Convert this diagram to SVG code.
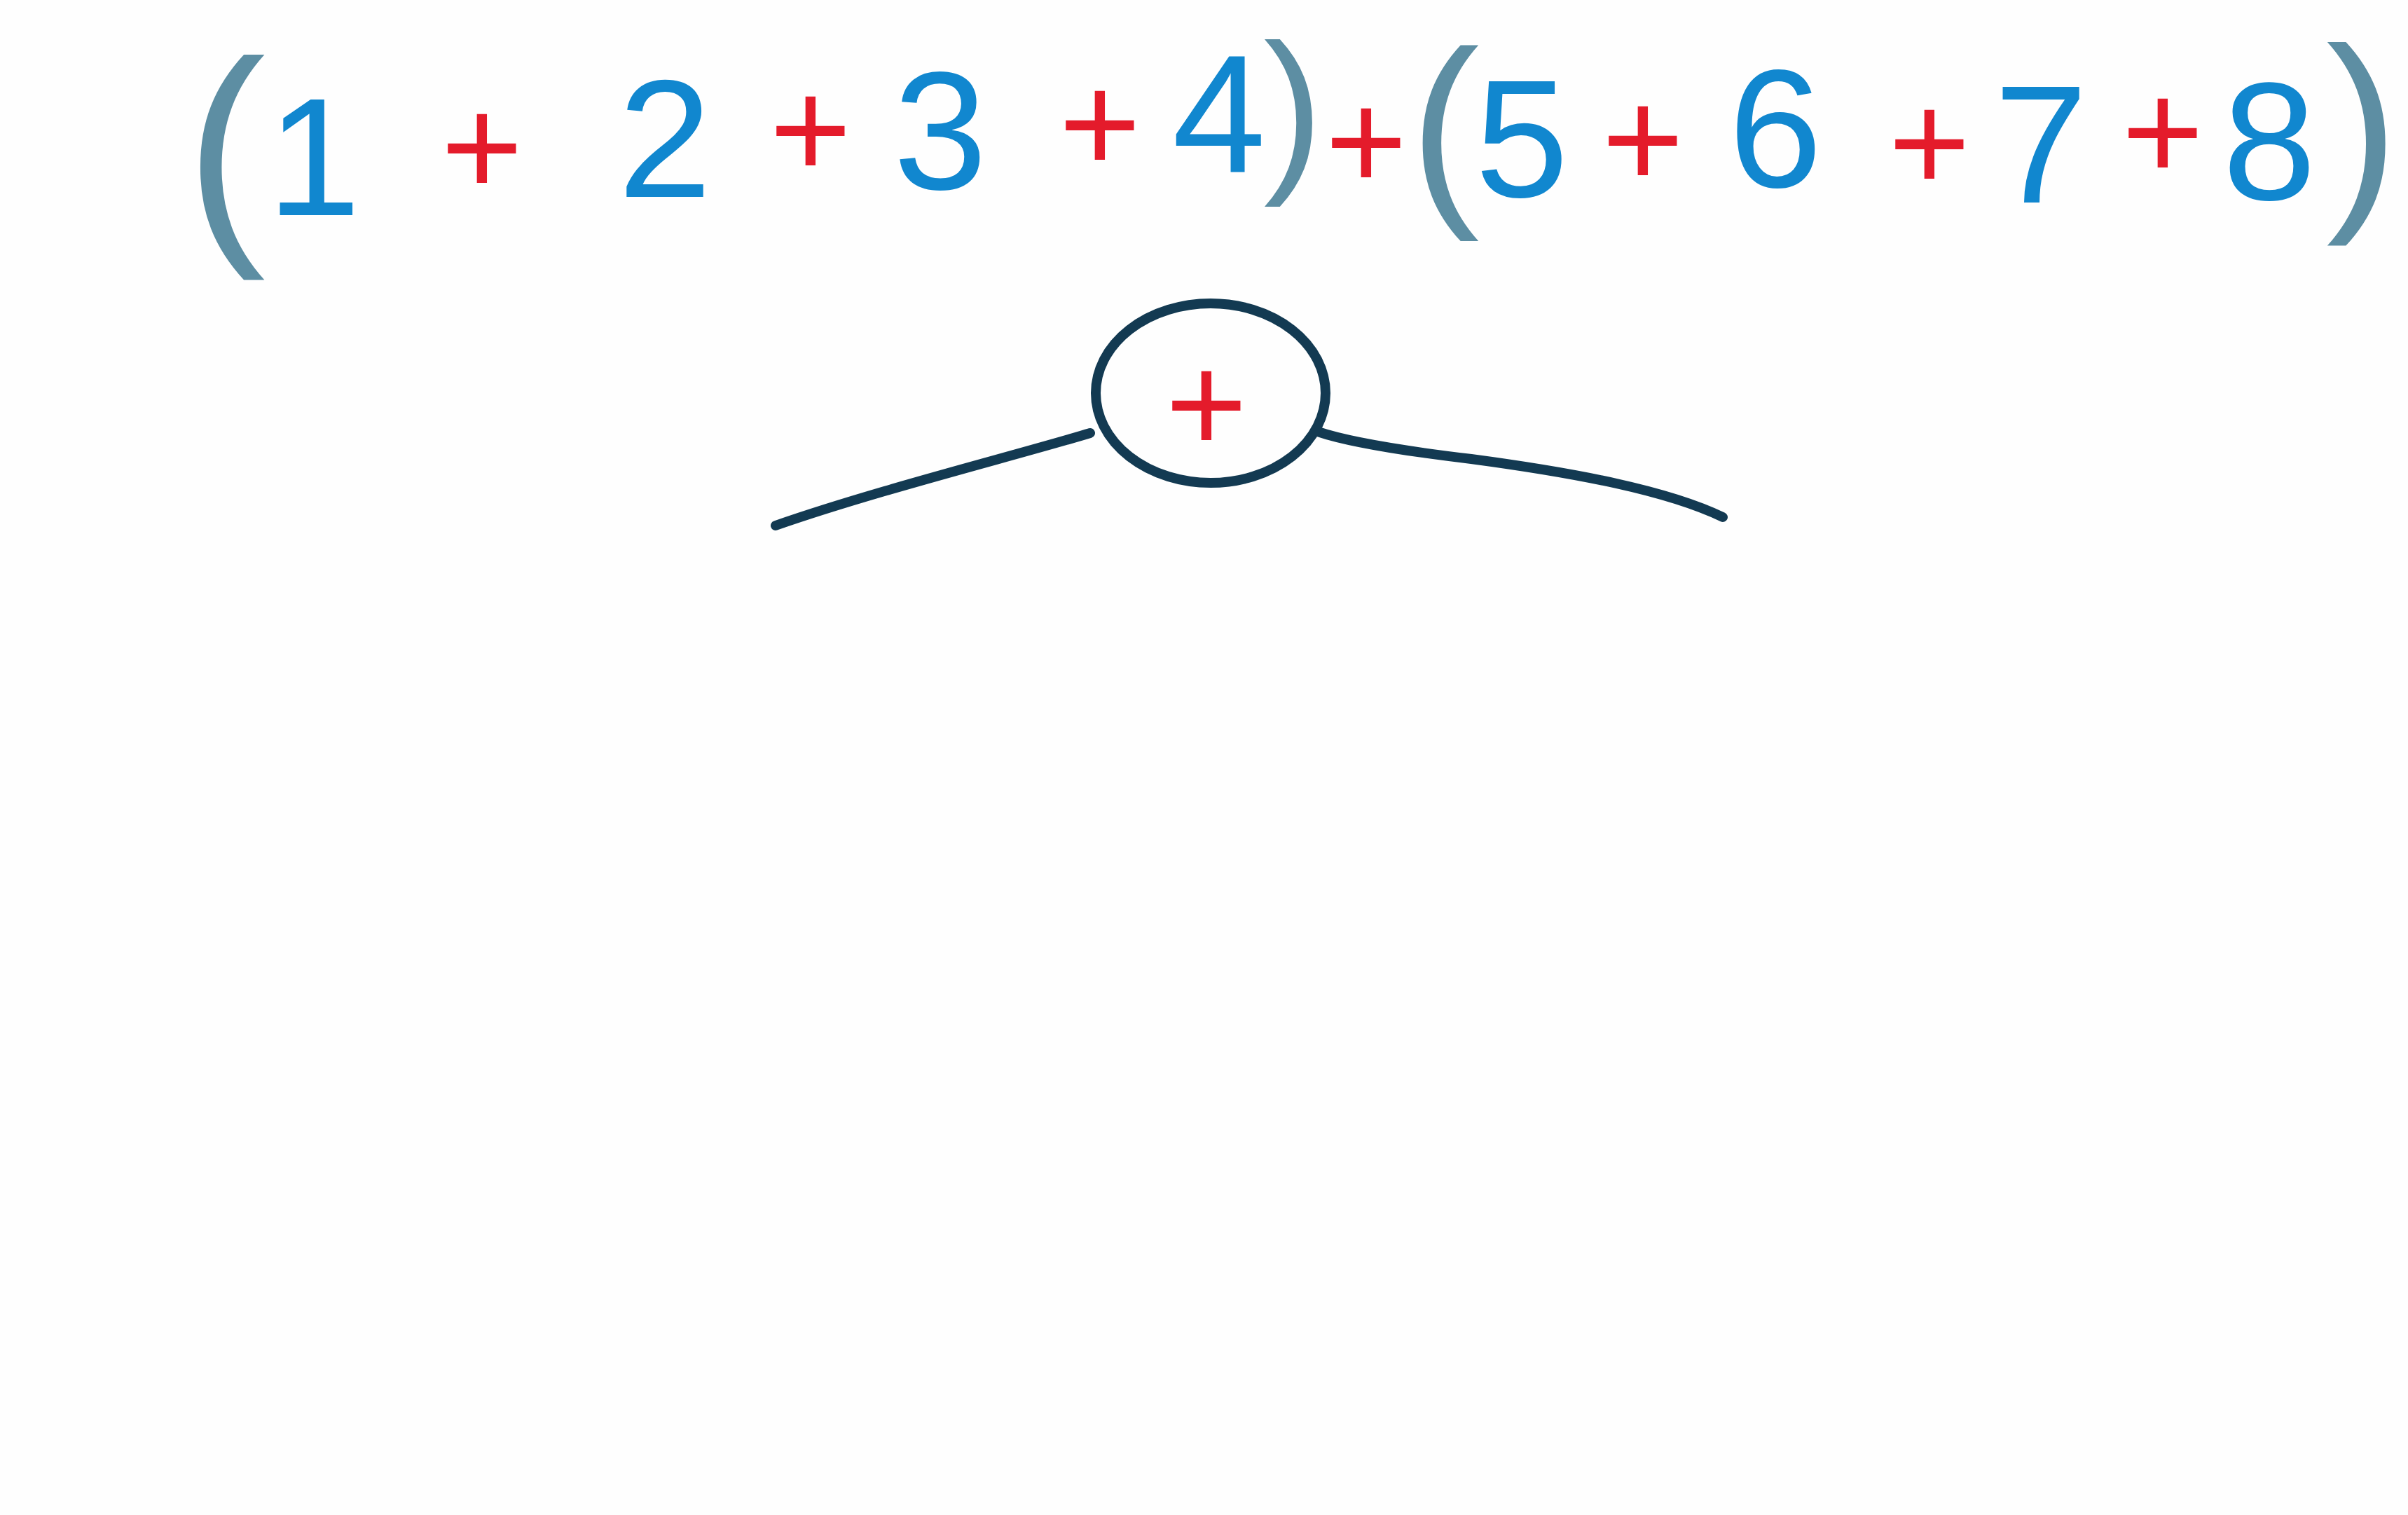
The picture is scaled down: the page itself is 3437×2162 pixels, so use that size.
<svg xmlns="http://www.w3.org/2000/svg" width="3437" height="2162" viewBox="0 0 3437 2162">
<style>
.d{font-family:"Liberation Sans",Arial,sans-serif;font-size:240px;fill:#1187cf;text-anchor:middle}
.p{font-family:"Liberation Sans",Arial,sans-serif;font-size:200px;fill:#e41b2b;text-anchor:middle}
.b{font-family:"Liberation Sans",Arial,sans-serif;fill:#5d8ea3;text-anchor:middle}
.edge{fill:none;stroke:#133a52;stroke-width:14;stroke-linecap:round}
</style>
<rect width="3437" height="2162" fill="#fefefe"/>
<g id="expression">
<text class="b" x="322" y="328" font-size="345">(</text>
<text class="d" x="448" y="307">1</text>
<text class="p" x="688" y="279">+</text>
<text class="d" x="949" y="281">2</text>
<text class="p" x="1157" y="254">+</text>
<text class="d" x="1342" y="270">3</text>
<text class="p" x="1570" y="246">+</text>
<text class="d" x="1740" y="245">4</text>
<text class="b" x="1846" y="242" font-size="256">)</text>
<text class="p" x="1950" y="271">+</text>
<text class="b" x="2062" y="282" font-size="300">(</text>
<text class="d" x="2172" y="281">5</text>
<text class="p" x="2345" y="268">+</text>
<text class="d" x="2534" y="267">6</text>
<text class="p" x="2754" y="273">+</text>
<text class="d" x="2913" y="289">7</text>
<text class="p" x="3087" y="257">+</text>
<text class="d" x="3239" y="285">8</text>
<text class="b" x="3372" y="286" font-size="312">)</text>
</g>
<g id="connectors">
<path class="edge" d="M1556,618 C1450,650 1250,700 1107,750"/>
<path class="edge" d="M1881,616 Q1940,636 2100,655 C2250,675 2380,700 2459,738"/>
</g>
<g id="node-plus">
<ellipse class="edge" cx="1728" cy="561" rx="164" ry="128"/>
<text class="p" x="1722" y="646" font-size="270">+</text>
</g>
</svg>
